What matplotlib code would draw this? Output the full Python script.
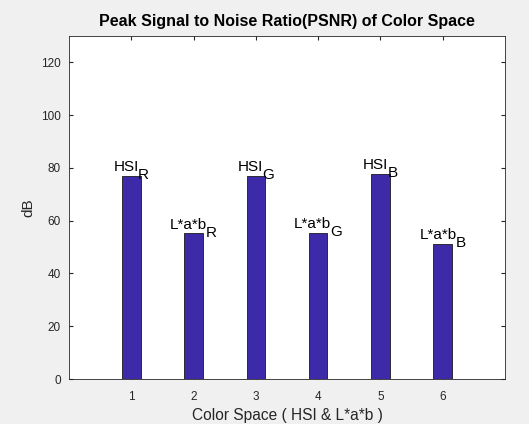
import matplotlib
matplotlib.use("Agg")
import matplotlib.pyplot as plt
from matplotlib.transforms import offset_copy

plt.rcParams['font.family'] = ['Liberation Sans', 'DejaVu Sans']

positions = [1, 2, 3, 4, 5, 6]
psnr = [77.0, 55.2, 77.0, 55.5, 77.7, 51.3]
label_main = ['HSI', 'L*a*b', 'HSI', 'L*a*b', 'HSI', 'L*a*b']
label_sub = ['R', 'R', 'G', 'G', 'B', 'B']
yticks = [0, 20, 40, 60, 80, 100, 120]

W, H = 529, 424
fig = plt.figure(figsize=(W / 100, H / 100), dpi=100, facecolor='#f0f0f0')
ax = fig.add_axes([69 / W, 1 - 379 / H, (505 - 69) / W, (379 - 36) / H])
ax.bar(positions, psnr, width=0.3, color='#3d2aa8', edgecolor='#1a1a1a', linewidth=0.6, zorder=2)
ax.set_xlim(0, 7)
ax.set_ylim(0, 130)
ax.set_xticks(positions)
ax.set_yticks(yticks)
ax.tick_params(direction='in', length=3, labelsize=8.5, colors='#262626', top=True, right=True)
ax.tick_params(axis='x', pad=9)
ax.tick_params(axis='y', pad=6)
for s in ax.spines.values():
    s.set_color('#262626')
    s.set_linewidth(0.6)
ax.set_title('Peak Signal to Noise Ratio(PSNR) of Color Space', fontsize=11.5, fontweight='bold', pad=7)
ax.set_xlabel('Color Space ( HSI & L*a*b )', fontsize=11.2, color='#262626', labelpad=3)
ax.set_ylabel('dB', fontsize=11, color='#262626', labelpad=4)

fs = 11
fig.canvas.draw()
renderer = fig.canvas.get_renderer()
for x, v, m, s in zip(positions, psnr, label_main, label_sub):
    tm = ax.text(x, v, m, ha='left', va='baseline', fontsize=fs)
    ts = ax.text(x, v, s, ha='left', va='baseline', fontsize=fs)
    wm = tm.get_window_extent(renderer).width
    ws = ts.get_window_extent(renderer).width
    total = wm + ws - 1
    tm.set_transform(offset_copy(ax.transData, fig=fig, x=-total / 2, y=4.5, units='dots'))
    ts.set_transform(offset_copy(ax.transData, fig=fig, x=-total / 2 + wm - 1, y=-3.5, units='dots'))

fig.savefig('out.png', dpi=100, facecolor=fig.get_facecolor())
